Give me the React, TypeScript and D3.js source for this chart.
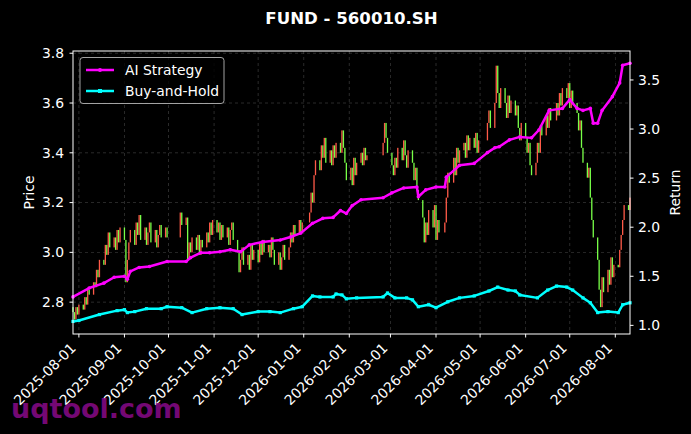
import * as d3 from 'd3'

// trading calendar (weekdays minus exchange holidays)
const startDay = '2025-07-28'
const endDay = '2026-08-11'
const holidays = [
  '2025-10-01', '2025-10-02', '2025-10-03', '2025-10-06', '2025-10-07', '2025-10-08',
  '2026-01-01', '2026-01-02',
  '2026-02-16', '2026-02-17', '2026-02-18', '2026-02-19', '2026-02-20', '2026-02-23',
  '2026-04-06', '2026-05-01', '2026-05-04', '2026-05-05', '2026-06-19',
]

// daily closes, one row per week
const closes = [
  2.76, 2.73, 2.78, 2.75, 2.79,
  2.77, 2.82, 2.79, 2.85, 2.83,
  2.88, 2.86, 2.93, 2.90, 2.97,
  2.95, 3.03, 2.99, 3.08, 3.02,
  3.06, 3.01, 3.09, 3.04, 3.10,
  3.05, 2.88, 2.97, 3.04, 3.09,
  3.03, 3.12, 3.07, 3.15, 3.05,
  3.10, 3.03, 3.08, 3.12, 3.04,
  3.09, 3.02, 3.07, 3.11, 3.06,
  3.10, 3.06,
  3.16, 3.11,
  3.14, 2.97, 3.04, 3.00, 3.06,
  3.01, 3.07, 2.99, 3.05, 3.02,
  3.08, 3.04, 3.12, 3.07, 3.13,
  3.08, 3.12, 3.05, 3.11, 3.06,
  3.10, 3.03, 3.09, 3.12, 3.05,
  3.00, 2.92, 2.97, 3.02, 2.95,
  2.99, 2.93, 3.03, 2.97, 3.01,
  2.96, 3.04, 2.99, 3.05, 3.00,
  3.03, 2.98, 3.06, 3.01, 2.95,
  3.00, 2.93, 2.98, 3.03, 2.97,
  3.02, 3.08, 3.04, 3.11, 3.07,
  3.13, 3.08, 3.12,
  3.16, 3.24, 3.20, 3.31, 3.37,
  3.33, 3.43, 3.38, 3.46, 3.36,
  3.41, 3.35, 3.43, 3.38, 3.44,
  3.40, 3.49, 3.42, 3.36, 3.29,
  3.34, 3.27, 3.38, 3.31, 3.36,
  3.40, 3.35, 3.42, 3.37, 3.39,
  3.44, 3.52, 3.46, 3.40,
  3.35, 3.31, 3.38, 3.34, 3.42,
  3.37, 3.45, 3.39, 3.34, 3.41,
  3.36, 3.29, 3.34, 3.25, 3.21,
  3.14, 3.04, 3.12, 3.07, 3.17,
  3.10, 3.19, 3.05, 3.13, 3.08,
  3.12, 3.22, 3.32, 3.28,
  3.38, 3.31, 3.42, 3.36, 3.41,
  3.44, 3.38, 3.47, 3.41, 3.46,
  3.42, 3.48, 3.40, 3.45,
  3.52, 3.57, 3.50,
  3.60, 3.75, 3.64, 3.58, 3.66,
  3.60, 3.54, 3.63, 3.56, 3.61,
  3.55, 3.59, 3.50, 3.45, 3.52,
  3.46, 3.40, 3.44, 3.35, 3.31,
  3.36, 3.44, 3.40, 3.51, 3.47,
  3.55, 3.50, 3.58, 3.53,
  3.60, 3.55, 3.64, 3.59, 3.66,
  3.62, 3.68, 3.58, 3.65, 3.60,
  3.56, 3.49, 3.53, 3.42, 3.36,
  3.30, 3.34, 3.22, 3.13, 3.06,
  2.97, 2.85, 2.78, 2.90, 2.84,
  2.93, 2.87, 2.98, 2.90, 2.95,
  2.94, 3.01, 3.07, 3.13, 3.19,
  3.17, 3.22,
]
const firstOpen = 2.78

const aiDates = [
  '2025-07-28', '2025-08-08', '2025-08-18', '2025-08-25', '2025-09-01', '2025-09-03',
  '2025-09-05', '2025-09-11', '2025-09-18', '2025-09-30', '2025-10-13', '2025-10-16',
  '2025-10-23', '2025-10-29', '2025-11-05', '2025-11-12', '2025-11-19', '2025-11-25',
  '2025-12-04', '2025-12-16', '2025-12-23', '2025-12-30', '2026-01-07', '2026-01-14',
  '2026-01-21', '2026-01-26', '2026-01-30', '2026-02-03', '2026-02-09', '2026-02-24',
  '2026-03-02', '2026-03-10', '2026-03-19', '2026-03-20', '2026-03-25', '2026-04-01',
  '2026-04-07', '2026-04-08', '2026-04-17', '2026-04-27', '2026-05-06', '2026-05-11',
  '2026-05-14', '2026-05-21', '2026-05-28', '2026-06-05', '2026-06-10', '2026-06-17',
  '2026-06-26', '2026-07-01', '2026-07-06', '2026-07-10', '2026-07-15', '2026-07-17',
  '2026-07-20', '2026-07-23', '2026-07-30', '2026-08-04', '2026-08-06', '2026-08-11',
]
const aiValues = [
  1.29, 1.38, 1.43, 1.49, 1.50, 1.47,
  1.55, 1.59, 1.60, 1.65, 1.65, 1.69,
  1.74, 1.74, 1.75, 1.77, 1.75, 1.82,
  1.85, 1.87, 1.90, 1.94, 2.04, 2.09,
  2.10, 2.17, 2.14, 2.22, 2.28, 2.30,
  2.35, 2.40, 2.41, 2.31, 2.38, 2.41,
  2.41, 2.51, 2.63, 2.65, 2.76, 2.81,
  2.82, 2.89, 2.92, 2.91, 2.99, 3.19,
  3.21, 3.30, 3.21, 3.19, 3.21, 3.06,
  3.06, 3.19, 3.33, 3.47, 3.65, 3.67,
]

const bhDates = [
  '2025-07-28', '2025-08-01', '2025-08-15', '2025-08-27', '2025-09-01', '2025-09-03',
  '2025-09-08', '2025-09-16', '2025-09-26', '2025-09-30', '2025-10-10', '2025-10-17',
  '2025-10-27', '2025-11-05', '2025-11-14', '2025-11-20', '2025-12-01', '2025-12-09',
  '2025-12-16', '2025-12-25', '2025-12-31', '2026-01-07', '2026-01-12', '2026-01-21',
  '2026-01-23', '2026-01-27', '2026-01-30', '2026-02-06', '2026-02-24', '2026-02-27',
  '2026-03-04', '2026-03-12', '2026-03-16', '2026-03-20', '2026-03-27', '2026-04-01',
  '2026-04-09', '2026-04-17', '2026-04-27', '2026-05-07', '2026-05-13', '2026-05-20',
  '2026-05-25', '2026-05-28', '2026-06-09', '2026-06-16', '2026-06-22', '2026-06-29',
  '2026-07-03', '2026-07-10', '2026-07-15', '2026-07-20', '2026-07-27', '2026-08-03',
  '2026-08-06', '2026-08-11',
]
const bhValues = [
  1.04, 1.05, 1.11, 1.15, 1.16, 1.13,
  1.14, 1.17, 1.17, 1.19, 1.18, 1.13,
  1.17, 1.18, 1.17, 1.11, 1.14, 1.14,
  1.13, 1.17, 1.19, 1.30, 1.29, 1.29,
  1.32, 1.31, 1.27, 1.28, 1.29, 1.33,
  1.28, 1.28, 1.26, 1.19, 1.21, 1.18,
  1.24, 1.28, 1.30, 1.35, 1.39, 1.36,
  1.35, 1.31, 1.28, 1.36, 1.40, 1.39,
  1.36, 1.28, 1.23, 1.13, 1.14, 1.13,
  1.21, 1.23,
]

const parse = d3.timeParse('%Y-%m-%d')
const fmtDay = d3.timeFormat('%Y-%m-%d')

const W = 691
const H = 434
const m = { left: 73, right: 630, top: 51, bottom: 334 }
const font = 'DejaVu Sans, sans-serif'
const fs = 13.9

const App = () => {
  const holidaySet = new Set(holidays)
  const tradingDays = d3.timeDay
    .range(parse(startDay)!, d3.timeDay.offset(parse(endDay)!, 1))
    .filter(d => d.getDay() > 0 && d.getDay() < 6 && !holidaySet.has(fmtDay(d)))

  const n = Math.min(tradingDays.length, closes.length)
  const candles = d3.range(n).map(i => ({
    date: tradingDays[i],
    open: i === 0 ? firstOpen : closes[i - 1],
    close: closes[i],
  }))

  const x = d3.scaleTime()
    .domain([parse(startDay)!, parse(endDay)!])
    .range([m.left, m.right])
  const yL = d3.scaleLinear().domain([2.672, 3.809]).range([m.bottom, m.top])
  const yR = d3.scaleLinear().domain([0.912, 3.795]).range([m.bottom, m.top])

  const ai = aiDates.map((d, i) => ({ date: parse(d)!, v: aiValues[i] }))
  const bh = bhDates.map((d, i) => ({ date: parse(d)!, v: bhValues[i] }))
  const line = d3.line<{ date: Date; v: number }>()
    .x(d => x(d.date))
    .y(d => yR(d.v))

  const xTicks = d3.timeMonth.range(parse('2025-08-01')!, parse('2026-08-02')!)
  const yLTicks = yL.ticks(6)
  const yRTicks = yR.ticks(6)

  return (
    <svg width={W} height={H} style={{ position: 'absolute', left: 0, top: 0, background: '#000' }} fontFamily={font}>
      <rect width={W} height={H} fill="#000" />
      <text x={351.5} y={24} fill="#fff" fontSize={16.6} fontWeight="bold" textAnchor="middle">FUND - 560010.SH</text>

      {/* grid */}
      {xTicks.map(t => (
        <line key={+t} x1={x(t)} x2={x(t)} y1={m.top} y2={m.bottom} stroke="#666" strokeWidth={0.6} strokeDasharray="3,3" opacity={0.7} />
      ))}
      {yLTicks.map(t => (
        <line key={t} x1={m.left} x2={m.right} y1={yL(t)} y2={yL(t)} stroke="#666" strokeWidth={0.6} strokeDasharray="3,3" opacity={0.7} />
      ))}

      {/* candles */}
      {candles.map((c, i) => {
        const up = c.close >= c.open
        const top = yL(Math.max(c.open, c.close))
        const bot = yL(Math.min(c.open, c.close))
        return (
          <rect key={i} x={x(c.date) - 0.65} y={top} width={1.3} height={Math.max(bot - top, 1)}
            fill={up ? '#ff5a48' : '#78ff48'} />
        )
      })}

      {/* return lines */}
      <path d={line(bh)!} fill="none" stroke="#00ffff" strokeWidth={2.5} strokeLinejoin="round" />
      {bh.map((d, i) => (
        <rect key={i} x={x(d.date) - 1.6} y={yR(d.v) - 1.6} width={3.2} height={3.2} fill="#00ffff" />
      ))}
      <path d={line(ai)!} fill="none" stroke="#ff00ff" strokeWidth={2.5} strokeLinejoin="round" />
      {ai.map((d, i) => (
        <circle key={i} cx={x(d.date)} cy={yR(d.v)} r={1.8} fill="#ff00ff" />
      ))}

      {/* spines */}
      <rect x={m.left} y={m.top} width={m.right - m.left} height={m.bottom - m.top} fill="none" stroke="#fff" strokeWidth={1} />

      {/* left axis */}
      {yLTicks.map(t => (
        <g key={t}>
          <line x1={m.left - 3.5} x2={m.left} y1={yL(t)} y2={yL(t)} stroke="#fff" />
          <text x={m.left - 9} y={yL(t)} dy="0.35em" fill="#fff" fontSize={fs} textAnchor="end">{d3.format('.1f')(t)}</text>
        </g>
      ))}
      <text transform={`translate(34,${(m.top + m.bottom) / 2}) rotate(-90)`} fill="#fff" fontSize={fs} textAnchor="middle">Price</text>

      {/* right axis */}
      {yRTicks.map(t => (
        <g key={t}>
          <line x1={m.right} x2={m.right + 3.5} y1={yR(t)} y2={yR(t)} stroke="#fff" />
          <text x={m.right + 8} y={yR(t)} dy="0.35em" fill="#fff" fontSize={fs}>{d3.format('.1f')(t)}</text>
        </g>
      ))}
      <text transform={`translate(680,${(m.top + m.bottom) / 2}) rotate(-90)`} fill="#fff" fontSize={fs} textAnchor="middle">Return</text>

      {/* x axis */}
      {xTicks.map(t => (
        <g key={+t}>
          <line x1={x(t)} x2={x(t)} y1={m.bottom} y2={m.bottom + 3.5} stroke="#fff" />
          <text transform={`translate(${x(t) - 2},${m.bottom + 15}) rotate(-45)`} fill="#fff" fontSize={fs} textAnchor="end">{fmtDay(t)}</text>
        </g>
      ))}

      {/* legend */}
      <rect x={80} y={57.5} width={144} height={46} rx={3} fill="#000" fillOpacity={0.8} stroke="#ccc" strokeWidth={0.8} />
      <line x1={86} x2={114} y1={70} y2={70} stroke="#ff00ff" strokeWidth={2.5} />
      <circle cx={100} cy={70} r={2} fill="#ff00ff" />
      <text x={125} y={75} fill="#fff" fontSize={fs}>AI Strategy</text>
      <line x1={86} x2={114} y1={91} y2={91} stroke="#00ffff" strokeWidth={2.5} />
      <rect x={98} y={89} width={4} height={4} fill="#00ffff" />
      <text x={125} y={96} fill="#fff" fontSize={fs}>Buy-and-Hold</text>

      {/* watermark */}
      <text x={11} y={418} fill="#8a0a8a" fillOpacity={0.85} fontSize={27} fontWeight="bold">uqtool.com</text>
    </svg>
  )
}

export default App
